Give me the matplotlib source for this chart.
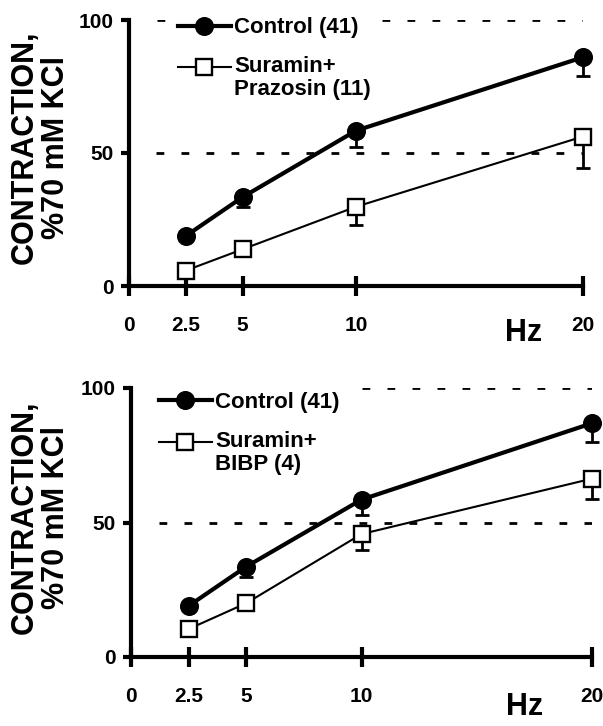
import matplotlib
matplotlib.use("Agg")
import matplotlib.pyplot as plt
from matplotlib.legend_handler import HandlerLine2D
import numpy as np

plt.rcParams['font.family'] = ['Liberation Sans', 'DejaVu Sans']
plt.rcParams['font.weight'] = 'bold'

freq = [2.5, 5, 10, 20]
xticks = [0, 2.5, 5, 10, 20]
xtick_labels = ["0", "2.5", "5", "10", "20"]
yticks = [0, 50, 100]

# Top panel
ctrl_top = [18.8, 33.4, 58.4, 86.0]
ctrl_top_err = [0.0, 3.8, 6.0, 7.2]
praz = [5.8, 13.8, 29.8, 56.2]
praz_err = [0.0, 0.0, 7.0, 12.0]

# Bottom panel
ctrl_bot = [19.0, 33.6, 58.5, 86.9]
ctrl_bot_err = [0.0, 4.0, 5.8, 6.9]
bibp = [10.4, 20.0, 45.7, 66.3]
bibp_err = [0.0, 0.0, 6.0, 7.4]

label_ctrl = "Control (41)"
label_praz = "Suramin+\nPrazosin (11)"
label_bibp = "Suramin+\nBIBP (4)"

W, H = 603, 726
fig = plt.figure(figsize=(W / 100, H / 100), dpi=100)


class FirstLineHandler(HandlerLine2D):
    """Align the legend handle with the first line of a two-line label."""
    def __init__(self, shift, **kw):
        super().__init__(**kw)
        self.shift = shift

    def create_artists(self, legend, orig_handle, xdescent, ydescent, width,
                       height, fontsize, trans):
        return super().create_artists(legend, orig_handle, xdescent,
                                      ydescent - 2 * self.shift, width, height,
                                      fontsize, trans)


def make_ax(l, r, b, t):
    return fig.add_axes([l / W, 1 - b / H, (r - l) / W, (b - t) / H])


ax1 = make_ax(129, 583, 286, 20)
ax2 = make_ax(131, 592, 657, 388)

DASH = (0, (2.8, 6.2))


def style(ax, top_line_start, hz_xy, ylab_xy):
    ax.set_xlim(0, 20)
    ax.set_ylim(0, 100)
    for s in ['top', 'right']:
        ax.spines[s].set_visible(False)
    for s in ['left', 'bottom']:
        ax.spines[s].set_linewidth(3)
    ax.set_xticks(xticks)
    ax.set_xticklabels(xtick_labels)
    ax.set_yticks(yticks)
    ax.tick_params(axis='x', direction='inout', length=15, width=3, pad=14, labelsize=15)
    ax.tick_params(axis='y', direction='out', length=6, width=3, pad=5, labelsize=15)
    for lab in ax.get_xticklabels() + ax.get_yticklabels():
        lab.set_fontweight('bold')
    ax.hlines(100, top_line_start, 20, colors='black', linestyles=DASH, linewidth=2, zorder=1)
    ax.hlines(50, 1.2, 20, colors='black', linestyles=DASH, linewidth=2, zorder=1)
    ax.set_ylabel("CONTRACTION,\n%70 mM KCl", fontsize=22, fontweight='bold',
                  linespacing=1.05)
    ax.yaxis.set_label_coords(ylab_xy[0], ylab_xy[1])
    ax.text(hz_xy[0], hz_xy[1], "Hz", transform=ax.transAxes, fontsize=22,
            fontweight='bold', ha='center', va='center')


def plot_series(ax, y, err, marker, lw, label, mfc, ms):
    ax.errorbar(freq, y, yerr=[err, np.zeros(len(err))], fmt='none', ecolor='black',
                elinewidth=2, capsize=5, capthick=2, clip_on=False, zorder=3)
    ln, = ax.plot(freq, y, color='black', linewidth=lw, marker=marker, markersize=ms,
                  markerfacecolor=mfc, markeredgecolor='black', markeredgewidth=1.7,
                  label=label, clip_on=False, zorder=4)
    return ln


def add_legend(ax, h1, h2, anchor):
    leg = ax.legend(handles=[h1, h2], loc='upper left', bbox_to_anchor=anchor,
                    frameon=True, handlelength=2.4, handletextpad=0.15,
                    labelspacing=0.8, borderpad=0.15, borderaxespad=0,
                    prop={'weight': 'bold', 'size': 16},
                    handler_map={h2: FirstLineHandler(shift=8.2)})
    for t in leg.get_texts():
        t.set_linespacing(1.1)
    fr = leg.get_frame()
    fr.set_facecolor('white')
    fr.set_edgecolor('none')
    fr.set_alpha(1)
    return leg


style(ax1, 1.25, (0.870, -0.177), (-0.127, 0.52))
c1 = plot_series(ax1, ctrl_top, ctrl_top_err, 'o', 3, label_ctrl, 'black', 12)
s1 = plot_series(ax1, praz, praz_err, 's', 1.5, label_praz, 'white', 11)
add_legend(ax1, c1, s1, (0.100, 1.022))

style(ax2, 10.0, (0.853, -0.185), (-0.13, 0.52))
c2 = plot_series(ax2, ctrl_bot, ctrl_bot_err, 'o', 3, label_ctrl, 'black', 12)
s2 = plot_series(ax2, bibp, bibp_err, 's', 1.5, label_bibp, 'white', 11)
add_legend(ax2, c2, s2, (0.053, 0.997))

fig.savefig("out.png", dpi=100)
